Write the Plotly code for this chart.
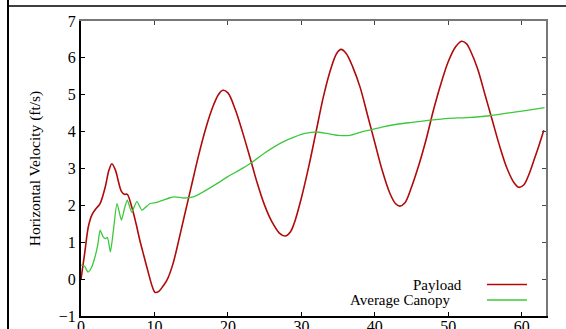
import plotly.graph_objects as go

# Payload horizontal velocity (ft/s) vs time
payload_x = [0, 0.5, 1.0, 1.5, 2.0, 2.6, 3.3, 3.8, 4.2, 4.7, 5.1, 5.5, 5.9, 6.3, 6.9, 7.5, 8.0, 8.6, 9.2, 9.7,
             10.1, 10.6, 11.2, 11.7, 12.5, 13, 14, 15, 16, 17, 18, 18.7, 19.3, 20, 21, 22, 23, 24, 25, 26, 27, 27.8,
             28.5, 29, 30, 31, 32, 33, 34, 34.8, 35.4, 36.1, 37, 38, 39, 40, 41, 42, 42.8, 43.4, 44.1, 45, 46, 47, 48, 49, 50, 51, 51.8,
             52.5, 53, 54, 55, 56, 57, 58, 59, 59.6, 60.3, 61, 61.7, 62.3, 63]
payload_y = [0.0, 0.7, 1.42, 1.75, 1.9, 2.05, 2.5, 2.95, 3.13, 2.95, 2.64, 2.38, 2.3, 2.3, 1.96, 1.5, 1.06, 0.6, 0.15, -0.2,
             -0.36, -0.33, -0.18, -0.03, 0.4, 0.79, 1.65, 2.5, 3.35, 4.1, 4.7, 5.0, 5.12, 5.05, 4.6, 3.98, 3.3, 2.6, 2.0, 1.55, 1.25, 1.17,
             1.28, 1.5, 2.2, 3.05, 4.0, 4.95, 5.7, 6.12, 6.23, 6.12, 5.75, 5.2, 4.45, 3.7, 2.95, 2.35, 2.05, 1.98, 2.07, 2.5, 3.1, 3.8, 4.6, 5.3, 5.9, 6.3, 6.45,
             6.38, 6.2, 5.7, 5.0, 4.3, 3.6, 3.0, 2.6, 2.49, 2.56, 2.85, 3.25, 3.6, 4.04]

# Average canopy horizontal velocity (ft/s) vs time
canopy_x = [0, 0.5, 0.95, 1.4, 1.9, 2.3, 2.6, 3.0, 3.3, 3.6, 4.0, 4.4, 4.9, 5.5, 5.9, 6.3, 6.9, 7.6, 8.3, 8.8,
            9.4, 10.3, 11.2, 12, 12.8, 14, 15.3, 16.5, 18.5, 20, 21.5, 23, 25, 27.5, 29, 30.5, 32.1, 33.5, 35, 36.6,
            38, 39.5, 41.1, 43, 45, 47.5, 50, 52.5, 55.6, 58, 60.5, 63.1]
canopy_y = [0.38, 0.35, 0.19, 0.3, 0.6, 0.95, 1.33, 1.15, 1.1, 1.13, 0.74, 1.3, 2.05, 1.6, 1.9, 2.14, 1.82, 2.1, 1.87, 1.95,
            2.05, 2.08, 2.14, 2.2, 2.23, 2.2, 2.23, 2.35, 2.59, 2.78, 2.95, 3.13, 3.42, 3.72, 3.85, 3.95, 3.99, 3.95, 3.9, 3.9,
            3.98, 4.05, 4.13, 4.2, 4.25, 4.31, 4.36, 4.38, 4.43, 4.5, 4.57, 4.65]

x_ticks = [0, 10, 20, 30, 40, 50, 60]
y_ticks = [-1, 0, 1, 2, 3, 4, 5, 6, 7]
series_names = ["Payload", "Average Canopy"]
series_colors = ["#b00a0a", "#3cc83c"]

FONT = "Liberation Serif"
X_RANGE = [0, 63.3]
Y_RANGE = [-1, 7]
L, R, T, B = 81, 546, 21, 316
PW, PH = R - L, B - T


def px(xp):
    return (xp - L) / PW


def py(yp):
    return (B - yp) / PH


fig = go.Figure()
fig.add_trace(go.Scatter(x=payload_x, y=payload_y, mode="lines", name=series_names[0],
                         line=dict(color=series_colors[0], width=1.6, shape="spline", smoothing=0.9),
                         showlegend=False))
fig.add_trace(go.Scatter(x=canopy_x, y=canopy_y, mode="lines", name=series_names[1],
                         line=dict(color=series_colors[1], width=1.3, shape="spline", smoothing=0.6),
                         showlegend=False))
# mirror axes holder (top/right frame)
fig.add_trace(go.Scatter(x=[None], y=[None], xaxis="x2", yaxis="y2", showlegend=False, hoverinfo="skip"))

axis_common = dict(ticks="inside", ticklen=4, tickwidth=1, showgrid=False, zeroline=False, automargin=False)
fig.update_layout(
    width=566, height=329,
    margin=dict(l=L, r=566 - R, t=T, b=329 - B, autoexpand=False),
    paper_bgcolor="white", plot_bgcolor="white",
    font=dict(family=FONT, size=16, color="black"),
    xaxis=dict(range=X_RANGE, tickvals=x_ticks, showline=True, linecolor="black", linewidth=2,
               tickcolor="black", tickfont=dict(size=16), ticklabelstandoff=-5, **axis_common),
    yaxis=dict(range=Y_RANGE, tickvals=y_ticks, showline=True, linecolor="black", linewidth=2,
               tickcolor="black", tickfont=dict(size=16),
               title=dict(text="Horizontal Velocity (ft/s)", font=dict(size=15.5), standoff=14),
               **axis_common),
    xaxis2=dict(range=X_RANGE, tickvals=x_ticks, overlaying="x", side="top", showline=True,
                linecolor="#777777", linewidth=1.5, tickcolor="#444444", showticklabels=False, **axis_common),
    yaxis2=dict(range=Y_RANGE, tickvals=y_ticks, overlaying="y", side="right", showline=True,
                linecolor="#777777", linewidth=1.5, tickcolor="#444444", showticklabels=False, **axis_common),
    showlegend=False,
)

# legend (text right-aligned, sample line to the right)
legend_rows_y = [284.5, 300]
legend_text_right = [463, 452]
for name, color, ry, rx in zip(series_names, series_colors, legend_rows_y, legend_text_right):
    fig.add_annotation(xref="paper", yref="paper", x=px(rx), y=py(ry),
                       text=name, showarrow=False, xanchor="right", yanchor="middle",
                       font=dict(family=FONT, size=15, color="black"), borderpad=0)
    fig.add_shape(type="line", xref="paper", yref="paper",
                  x0=px(487), x1=px(527), y0=py(ry), y1=py(ry),
                  line=dict(color=color, width=1.6 if name == "Payload" else 1.3))

# page border lines from surrounding document
fig.add_shape(type="line", xref="paper", yref="paper", x0=px(8), x1=px(566),
              y0=py(6), y1=py(6), line=dict(color="black", width=1.5))
fig.add_shape(type="line", xref="paper", yref="paper", x0=px(8), x1=px(8),
              y0=py(0), y1=py(329), line=dict(color="black", width=2))

fig.write_html("out.html")
